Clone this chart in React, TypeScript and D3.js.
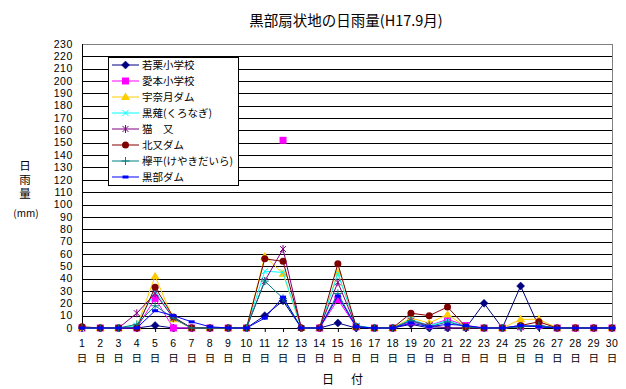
import React from "react";
import * as d3 from "d3";

const days = ["1","2","3","4","5","6","7","8","9","10","11","12","13","14","15","16","17","18","19","20","21","22","23","24","25","26","27","28","29","30"];
const yTicks = [0,10,20,30,40,50,60,70,80,90,100,110,120,130,140,150,160,170,180,190,200,210,220,230];

const seriesNames = ["若栗小学校","愛本小学校","宇奈月ダム","黒薙(くろなぎ)","猫　又","北又ダム","欅平(けやきだいら)","黒部ダム"];
const seriesColors = ["#000080","#FF00FF","#FFCC00","#00FFFF","#800080","#800000","#008080","#0000FF"];
const seriesMarkers = ["diamond","square","triangle","x","star","circle","plus","dash"];

const wakaguri: (number|null)[] = [0,0,0,0,2,0,0,0,0,0,10,22,0,0,4,0,0,0,3,0,0,0,20,0,34,1,0,0,0,0];
const aimoto: (number|null)[] = [0,0,0,0,24,0,0,0,0,0,null,152,null,0,23,1,0,0,5,2,7,2,0,0,1,2,0,0,0,0];
const unazuki: (number|null)[] = [0,0,0,1,42,7,0,0,0,0,58,44,0,0,45,1,0,0,8,4,11,1,0,0,7,7,0,0,0,0];
const kuronagi: (number|null)[] = [0,0,0,2,30,8,0,0,0,0,46,45,0,0,44,2,0,0,7,2,6,1,0,0,1,2,0,0,0,0];
const nekomata: (number|null)[] = [0,0,0,12,28,8,0,0,0,0,38,64,0,0,37,1,0,0,6,2,0,0,0,0,1,2,0,0,0,0];
const kitamata: (number|null)[] = [1,0,0,0,33,9,0,0,0,0,56,54,0,0,52,1,0,0,12,10,17,1,0,0,2,5,0,0,0,0];
const keyakidaira: (number|null)[] = [0,0,0,3,18,8,0,0,0,0,38,24,0,0,28,1,0,0,6,1,5,1,0,0,1,2,0,0,0,0];
const kurobeDam: (number|null)[] = [0,0,0,0,14,10,5,1,0,0,8,25,0,0,26,1,0,0,4,1,3,2,0,0,2,1,0,0,0,0];

const seriesValues = [wakaguri, aimoto, unazuki, kuronagi, nekomata, kitamata, keyakidaira, kurobeDam];

const W = 626, H = 389;
const left = 82, right = 612, top = 44, bottom = 328;
const font = "'Noto Sans CJK JP', 'Noto Sans', sans-serif";
const numFont = "'Liberation Sans', Arial, sans-serif";

function Marker({ kind, cx, cy, color }: { kind: string; cx: number; cy: number; color: string }) {
  switch (kind) {
    case "diamond":
      return <path d={`M${cx},${cy - 4}L${cx + 4},${cy}L${cx},${cy + 4}L${cx - 4},${cy}Z`} fill={color} stroke={color} strokeWidth={0.5} />;
    case "square":
      return <rect x={cx - 3.5} y={cy - 3.5} width={7} height={7} fill={color} />;
    case "triangle":
      return <path d={`M${cx},${cy - 4.5}L${cx + 4.5},${cy + 3}L${cx - 4.5},${cy + 3}Z`} fill={color} />;
    case "x":
      return <path d={`M${cx - 3},${cy - 3}L${cx + 3},${cy + 3}M${cx - 3},${cy + 3}L${cx + 3},${cy - 3}`} stroke={color} strokeWidth={1} />;
    case "star":
      return <path d={`M${cx - 3},${cy - 3}L${cx + 3},${cy + 3}M${cx - 3},${cy + 3}L${cx + 3},${cy - 3}M${cx},${cy - 4}L${cx},${cy + 4}`} stroke={color} strokeWidth={1} />;
    case "circle":
      return <circle cx={cx} cy={cy} r={3.5} fill={color} />;
    case "plus":
      return <path d={`M${cx - 4},${cy}L${cx + 4},${cy}M${cx},${cy - 4}L${cx},${cy + 4}`} stroke={color} strokeWidth={1} />;
    case "dash":
      return <rect x={cx - 3} y={cy - 1.5} width={6} height={3} fill={color} />;
    default:
      return null;
  }
}

export default function App() {
  const x = d3.scalePoint<string>().domain(days).range([left, right]);
  const y = d3.scaleLinear().domain([0, 230]).range([bottom, top]);

  const line = d3
    .line<number | null>()
    .defined((d) => d !== null)
    .x((_, i) => x(days[i]) as number)
    .y((d) => y(d as number));

  const legendX = 108, legendY = 57, legendW = 130, legendH = 128;

  return (
    <svg width={W} height={H} style={{ position: "absolute", left: 0, top: 0, background: "#fff" }} fontFamily={font}>
      <rect x={0} y={0} width={W} height={H} fill="#fff" />
      <text x={346} y={26} textAnchor="middle" fontSize={14.5} fill="#000">黒部扇状地の日雨量(H17.9月)</text>

      {/* grid */}
      {yTicks.filter((t) => t > 0 && t < 230).map((t) => (
        <line key={t} x1={left} x2={right} y1={Math.round(y(t)) + 0.5} y2={Math.round(y(t)) + 0.5} stroke="#000" strokeWidth={1} />
      ))}
      <line x1={left} x2={right} y1={top + 0.5} y2={top + 0.5} stroke="#808080" />
      <line x1={right + 0.5} x2={right + 0.5} y1={top} y2={bottom} stroke="#808080" />
      <line x1={left + 0.5} x2={left + 0.5} y1={top} y2={bottom + 1} stroke="#000" />
      <line x1={left} x2={right} y1={bottom + 0.5} y2={bottom + 0.5} stroke="#000" />

      {/* y labels */}
      {yTicks.map((t) => (
        <text key={t} x={73} y={y(t)} dy="0.35em" textAnchor="end" fontSize={10.5} letterSpacing={0.6} fontFamily={numFont} fill="#000">{t}</text>
      ))}
      {/* x ticks and labels */}
      {days.map((d) => (
        <g key={d}>
          <line x1={(x(d) as number) + 0.5} x2={(x(d) as number) + 0.5} y1={bottom} y2={bottom + 4} stroke="#000" />
          <text x={x(d)} y={343} dy="0.35em" textAnchor="middle" fontSize={10.5} letterSpacing={0.4} fontFamily={numFont} fill="#000">{d}</text>
          <text x={x(d)} y={358.5} dy="0.35em" textAnchor="middle" fontSize={10.5} fill="#000">日</text>
        </g>
      ))}
      <text x={322} y={380} dy="0.35em" textAnchor="start" fontSize={12} letterSpacing={2.5} fill="#000">日　付</text>

      {/* y title */}
      <text x={25} y={160} writingMode="vertical-rl" fontSize={11.5} letterSpacing={2.5} fill="#000">日雨量</text>
      <text x={26} y={213} dy="0.35em" textAnchor="middle" fontSize={10} fill="#000">(mm)</text>

      {/* series */}
      {seriesValues.map((vals, si) => (
        <g key={si}>
          <path d={line(vals) || ""} fill="none" stroke={seriesColors[si]} strokeWidth={1} />
          {vals.map((v, i) =>
            v === null ? null : (
              <Marker key={i} kind={seriesMarkers[si]} cx={x(days[i]) as number} cy={y(v)} color={seriesColors[si]} />
            )
          )}
        </g>
      ))}

      {/* legend */}
      <rect x={legendX + 0.5} y={legendY + 0.5} width={legendW} height={legendH} fill="#fff" stroke="#000" />
      {seriesNames.map((name, i) => {
        const ly = 65 + i * 16;
        return (
          <g key={name}>
            <line x1={112} x2={139} y1={ly} y2={ly} stroke={seriesColors[i]} strokeWidth={1} />
            <Marker kind={seriesMarkers[i]} cx={125.5} cy={ly} color={seriesColors[i]} />
            <text x={142} y={ly} dy="0.35em" fontSize={10.5} fill="#000">{name}</text>
          </g>
        );
      })}
    </svg>
  );
}
